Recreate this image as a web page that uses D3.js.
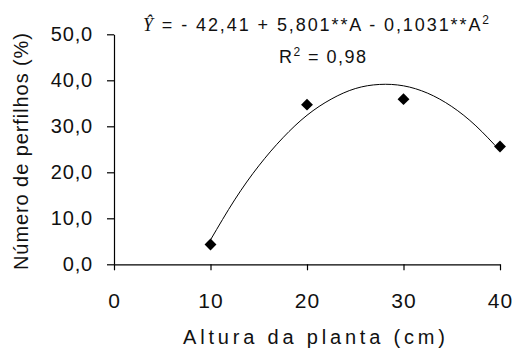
<!DOCTYPE html>
<html>
<head>
<meta charset="utf-8">
<script src="https://cdn.jsdelivr.net/npm/d3@7"></script>
<style>
  body { margin: 0; background: #fff; }
  text { font-family: "Liberation Sans", Arial, sans-serif; fill: #111; }
</style>
</head>
<body>
<div id="chart"></div>
<script>
// observed values (altura x perfilhos)
const alturas = [10, 20, 30, 40];
const perfilhos = [4.3, 34.7, 35.9, 25.6];

// fitted curve
const curveX = [10, 12.5, 15, 17.5, 20, 22.5, 25, 27.5, 30, 32.5, 35, 37.5, 40];
const curveY = [5.3, 14.0, 21.4, 27.5, 32.4, 35.9, 38.2, 39.1, 38.8, 37.2, 34.3, 30.1, 24.7];

const xTicks = [0, 10, 20, 30, 40];
const yTicks = [0, 10, 20, 30, 40, 50];

const width = 512, height = 352;

const svg = d3.select("#chart")
  .append("svg")
    .attr("width", width)
    .attr("height", height);

const x = d3.scaleLinear().domain([0, 40]).range([114, 500]);
const y = d3.scaleLinear().domain([0, 50]).range([264.3, 34.3]);

const fmt = d => d3.format(".1f")(d).replace(".", ",");

// Y axis
const yAxis = svg.append("g")
  .attr("transform", "translate(114,0)")
  .call(d3.axisLeft(y).tickValues(yTicks).tickFormat(fmt).tickSize(7).tickSizeOuter(0).tickPadding(14));
yAxis.selectAll("text").style("font-size", "20px").attr("letter-spacing", "0.8px");

// X axis
const xAxis = svg.append("g")
  .attr("transform", "translate(0,264.3)")
  .call(d3.axisBottom(x).tickValues(xTicks).tickSize(6).tickSizeOuter(0).tickPadding(23));
xAxis.selectAll("text").style("font-size", "21px").attr("letter-spacing", "1px");

svg.selectAll(".domain, .tick line").attr("stroke", "#000").attr("stroke-width", 1.2);

// regression curve
const line = d3.line()
  .x((d, i) => x(curveX[i]))
  .y(d => y(d))
  .curve(d3.curveNatural);

svg.append("path")
  .datum(curveY)
  .attr("fill", "none")
  .attr("stroke", "#000")
  .attr("stroke-width", 1)
  .attr("d", line);

// points
svg.append("g")
  .selectAll("path")
  .data(alturas)
  .enter().append("path")
    .attr("transform", (d, i) => "translate(" + x(d) + "," + y(perfilhos[i]) + ")")
    .attr("d", d3.symbol().type(d3.symbolDiamond2).size(90))
    .attr("fill", "#000");

// equation
const eq = svg.append("text")
  .attr("x", 143)
  .attr("y", 31)
  .attr("textLength", 346)
  .attr("lengthAdjust", "spacing")
  .style("font-size", "18px");
eq.append("tspan")
  .style("font-family", "'Liberation Serif', 'Times New Roman', serif")
  .style("font-style", "italic")
  .text("\u0176");
eq.append("tspan").text(" = - 42,41 + 5,801**A - 0,1031**A");
eq.append("tspan").attr("dy", -7).style("font-size", "12px").text("2");

const r2 = svg.append("text")
  .attr("x", 279)
  .attr("y", 63)
  .attr("textLength", 87)
  .attr("lengthAdjust", "spacing")
  .style("font-size", "18px");
r2.append("tspan").text("R");
r2.append("tspan").attr("dy", -7).style("font-size", "12px").text("2");
r2.append("tspan").attr("dy", 7).text(" = 0,98");

// axis titles
svg.append("text")
  .attr("x", 183)
  .attr("y", 344)
  .attr("textLength", 262)
  .attr("lengthAdjust", "spacing")
  .style("font-size", "20px")
  .text("Altura da planta (cm)");

svg.append("text")
  .attr("transform", "translate(28,270) rotate(-90)")
  .attr("textLength", 237)
  .attr("lengthAdjust", "spacing")
  .style("font-size", "20px")
  .text("Número de perfilhos (%)");
</script>
</body>
</html>
